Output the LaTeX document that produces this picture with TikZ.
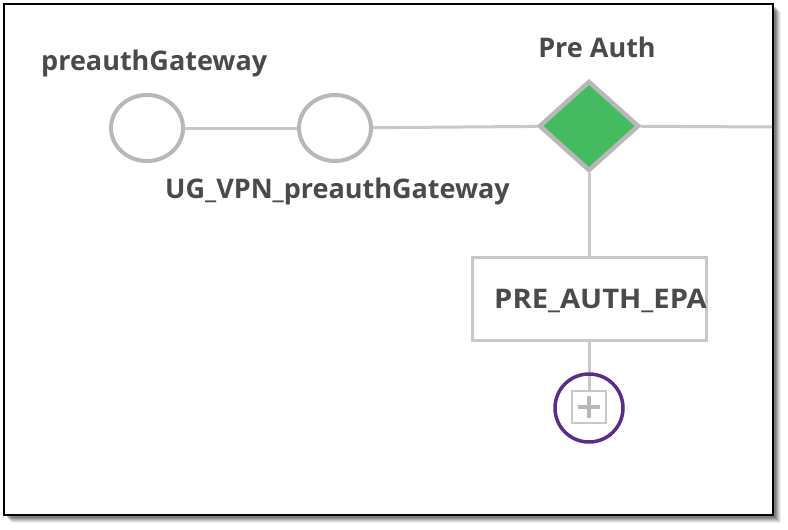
\documentclass[tikz,border=0pt]{standalone}
\usepackage{fontspec}
\setmainfont{Open Sans}
\usetikzlibrary{shapes.geometric}
\definecolor{txt}{HTML}{4A4A4A}
\definecolor{edge}{HTML}{C8C8C8}
\definecolor{ring}{HTML}{B8B8B8}
\definecolor{gfill}{HTML}{44BB60}
\definecolor{purp}{HTML}{5A2D8A}
\tikzset{
  lbl/.style={font=\fontsize{27}{30}\selectfont\bfseries, text=txt, inner sep=0pt},
  gw/.style={ellipse, draw=ring, line width=4pt, minimum width=72pt, minimum height=66pt, inner sep=0pt, fill=white},
  gate/.style={diamond, draw=ring, line width=4.5pt, fill=gfill, minimum width=100pt, minimum height=90pt, inner sep=0pt},
  pol/.style={rectangle, draw=edge, line width=3pt, fill=white, minimum width=234pt, minimum height=83pt, inner sep=0pt},
  conn/.style={draw=edge, line width=3pt},
  addbox/.style={rectangle, draw=edge, line width=1.8pt, fill=white, minimum width=34pt, minimum height=32pt, inner sep=0pt},
  hl/.style={circle, draw=purp, line width=3.5pt, minimum size=68pt, inner sep=0pt}
}
\begin{document}
\begin{tikzpicture}[x=1pt,y=-1pt]
\useasboundingbox (0,0) rectangle (788,530);
% shadow
\foreach \o/\a in {8/0.06,7/0.08,6/0.1,5/0.12,4/0.14,3/0.16}{
  \fill[black,opacity=\a] (4+\o,4+\o) rectangle (773+\o,515+\o);
}
\draw[fill=white, draw=black, line width=2pt] (4,4) rectangle (773,515);
\coordinate (rend) at (772,127);
\node[gw] (g1) at (147,128) {};
\node[gw] (g2) at (335,128) {};
\node[gate] (pa) at (589,126) {};
\node[pol] (epa) at (589,299) {};
\node[addbox] (add) at (589,407) {};
\draw[conn] (g1) -- (g2);
\draw[conn] (g2) -- (pa);
\draw[conn] (pa) -- (rend);
\draw[conn] (pa) -- (epa);
\draw[conn] (epa) -- (add);
\draw[ring, line width=4pt] ([yshift=-11pt]add.center) -- ([yshift=11pt]add.center)
  ([xshift=-11pt]add.center) -- ([xshift=11pt]add.center);
\node[hl] (hlc) at (589,408) {};
\node[lbl, anchor=west] (l1) at (41,63) {preauthGateway};
\node[lbl, anchor=west] (l2) at (165,191) {UG\_VPN\_preauthGateway};
\node[lbl] (l3) at (597,47) {Pre Auth};
\node[lbl, anchor=west, xscale=1.08] (l4) at (494,301) {PRE\_AUTH\_EPA};
\end{tikzpicture}
\end{document}
